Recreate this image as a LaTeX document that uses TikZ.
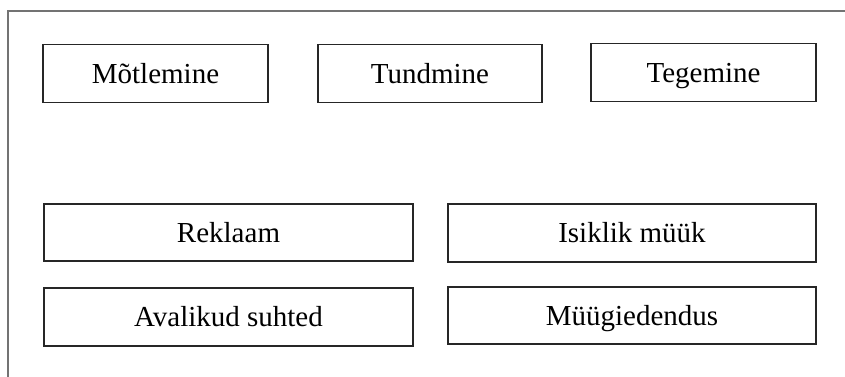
\documentclass[tikz,border=0pt]{standalone}
\usepackage{fontspec}
\setmainfont{Liberation Serif}
\begin{document}
\begin{tikzpicture}[x=1pt,y=-1pt,
  frameline/.style={draw=black!55,line width=1.1pt},
  box/.style={draw=black!85,line width=1.1pt,rectangle,inner sep=0pt,
    font=\fontsize{29}{34}\selectfont,text height=19.2pt,text depth=0pt,
    minimum height=58pt},
  small/.style={box,minimum width=225pt},
  wide/.style={box,minimum width=369pt}]
  \useasboundingbox (0,0) rectangle (845,377);
  % open frame: top and left edges
  \coordinate (ftr) at (845,11);
  \coordinate (ftl) at (8,11);
  \coordinate (fbl) at (8,377);
  \draw[frameline] (ftr) -- (ftl) -- (fbl);
  % first row
  \node[small] (think) at (155.5,73.5) {Mõtlemine};
  \node[small,minimum width=224pt] (feel) at (430,73.5) {Tundmine};
  \node[small] (do) at (703.5,72.5) {Tegemine};
  % promotion mix
  \node[wide,minimum height=57pt] (ads) at (228.5,232.5) {Reklaam};
  \node[wide] (pr) at (228.5,317) {Avalikud suhted};
  \node[wide,minimum width=368pt] (sell) at (632,233) {Isiklik müük};
  \node[wide,minimum width=368pt,minimum height=57pt] (promo) at (632,315.5) {Müügiedendus};
\end{tikzpicture}
\end{document}
